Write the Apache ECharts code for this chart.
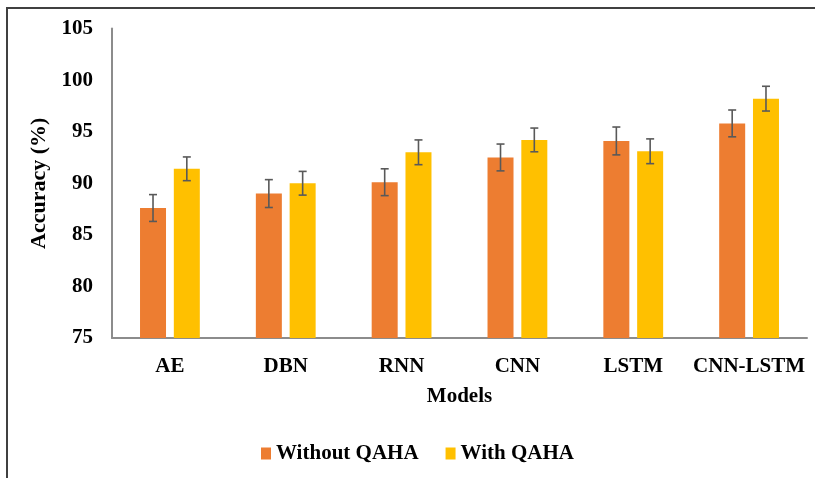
<!DOCTYPE html>
<html>
<head>
<meta charset="utf-8">
<script src="https://cdn.jsdelivr.net/npm/echarts@6/dist/echarts.min.js"></script>
<style>
  html, body { margin: 0; padding: 0; background: #fff; }
  #chart { width: 815px; height: 478px; }
</style>
</head>
<body>
<div id="chart"></div>
<script>
// data
const models = ['AE', 'DBN', 'RNN', 'CNN', 'LSTM', 'CNN-LSTM'];
const withoutQAHA = [87.6, 89.0, 90.1, 92.5, 94.1, 95.8];
const withQAHA = [91.4, 90.0, 93.0, 94.2, 93.1, 98.2];
const errWithout = [1.3, 1.35, 1.3, 1.3, 1.35, 1.3];
const errWith = [1.15, 1.15, 1.2, 1.15, 1.2, 1.2];
const yTicks = [75, 80, 85, 90, 95, 100, 105];

const font = "'Liberation Serif', 'Times New Roman', serif";
const BAR_W = 26;
const BAR_GAP = 0.3;

const chart = echarts.init(document.getElementById('chart'));

// error bar drawn on top of a bar; side = -1 left bar, +1 right bar
function errorBars(vals, errs, side) {
    return {
        type: 'custom',
        silent: true,
        z: 10,
        data: vals.map((v, i) => [i, v, errs[i]]),
        renderItem: function (params, api) {
            const i = api.value(0);
            const v = api.value(1);
            const e = api.value(2);
            const off = side * (BAR_W / 2 + BAR_W * BAR_GAP / 2);
            const top = api.coord([i, v + e]);
            const bot = api.coord([i, v - e]);
            const x = top[0] + off;
            const cap = 4;
            const style = { stroke: '#595959', lineWidth: 1.6 };
            return {
                type: 'group',
                children: [
                    { type: 'line', shape: { x1: x, y1: top[1], x2: x, y2: bot[1] }, style: style },
                    { type: 'line', shape: { x1: x - cap, y1: top[1], x2: x + cap, y2: top[1] }, style: style },
                    { type: 'line', shape: { x1: x - cap, y1: bot[1], x2: x + cap, y2: bot[1] }, style: style }
                ]
            };
        }
    };
}

const option = {
    backgroundColor: '#fff',
    animation: false,
    textStyle: { fontFamily: font },
    graphic: [
        {
            type: 'rect',
            shape: { x: 7, y: 8, width: 900, height: 600 },
            style: { fill: 'none', stroke: '#404040', lineWidth: 2 },
            silent: true
        }
    ],
    grid: {
        left: 112,
        right: 8,
        top: 28.5,
        bottom: 140
    },
    legend: {
        left: 261,
        top: 443,
        padding: 0,
        itemWidth: 10,
        itemHeight: 12,
        itemGap: 27,
        icon: 'rect',
        textStyle: { fontFamily: font, fontWeight: 'bold', fontSize: 21, color: '#000' },
        data: ['Without QAHA', 'With QAHA']
    },
    xAxis: {
        type: 'category',
        data: models,
        name: 'Models',
        nameLocation: 'middle',
        nameGap: 48,
        nameTextStyle: { fontFamily: font, fontWeight: 'bold', fontSize: 21, color: '#000' },
        axisLine: { lineStyle: { color: '#8c8c8c', width: 2 } },
        axisTick: { show: false },
        axisLabel: { interval: 0, margin: 18, fontFamily: font, fontWeight: 'bold', fontSize: 21, color: '#000' }
    },
    yAxis: {
        type: 'value',
        min: yTicks[0],
        max: yTicks[yTicks.length - 1],
        interval: yTicks[1] - yTicks[0],
        name: 'Accuracy (%)',
        nameLocation: 'middle',
        nameGap: 57,
        nameTextStyle: { fontFamily: font, fontWeight: 'bold', fontSize: 22, color: '#000' },
        axisLine: { show: true, lineStyle: { color: '#8c8c8c', width: 2 } },
        axisTick: { show: false },
        splitLine: { show: false },
        axisLabel: { margin: 19, fontFamily: font, fontWeight: 'bold', fontSize: 21, color: '#000' }
    },
    series: [
        {
            name: 'Without QAHA',
            type: 'bar',
            data: withoutQAHA,
            barWidth: BAR_W,
            barGap: (BAR_GAP * 100) + '%',
            itemStyle: { color: '#ED7D31' }
        },
        {
            name: 'With QAHA',
            type: 'bar',
            data: withQAHA,
            barWidth: BAR_W,
            itemStyle: { color: '#FFC000' }
        },
        errorBars(withoutQAHA, errWithout, -1),
        errorBars(withQAHA, errWith, 1)
    ]
};

chart.setOption(option);
</script>
</body>
</html>
